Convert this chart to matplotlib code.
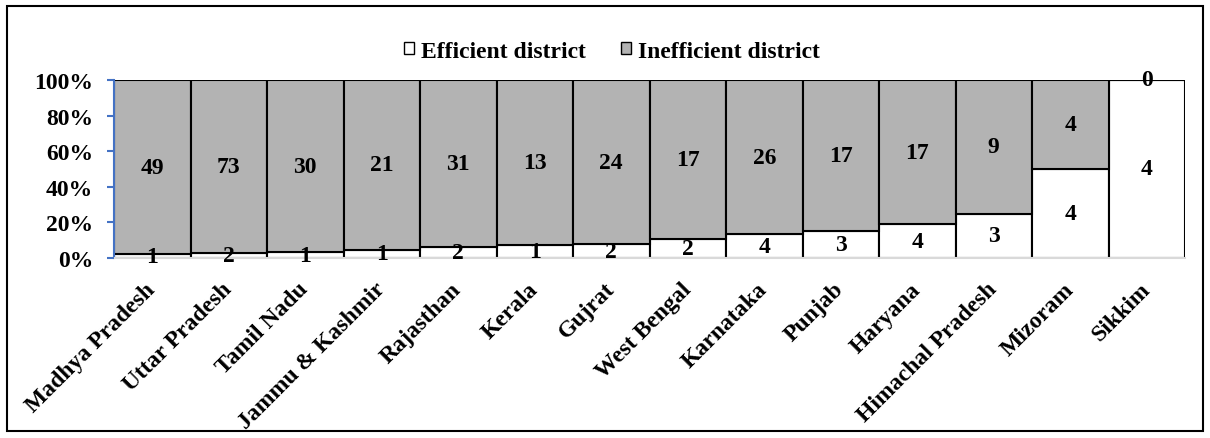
import matplotlib
matplotlib.use("Agg")
import matplotlib.pyplot as plt
from matplotlib.patches import Rectangle
import numpy as np

states = ["Madhya Pradesh", "Uttar Pradesh", "Tamil Nadu", "Jammu & Kashmir", "Rajasthan",
          "Kerala", "Gujrat", "West Bengal", "Karnataka", "Punjab", "Haryana",
          "Himachal Pradesh", "Mizoram", "Sikkim"]
efficient = [1, 2, 1, 1, 2, 1, 2, 2, 4, 3, 4, 3, 4, 4]
inefficient = [49, 73, 30, 21, 31, 13, 24, 17, 26, 17, 17, 9, 4, 0]
yticks = [0, 20, 40, 60, 80, 100]

plt.rcParams['font.family'] = ['Liberation Serif', 'DejaVu Serif']
plt.rcParams['font.weight'] = 'bold'
FS = 17

fig = plt.figure(figsize=(12.1, 4.39), dpi=100)
ax = fig.add_axes([114/1210, 1-259/439, (1185-114)/1210, (259-81)/439])

eff = np.array(efficient, float)
ineff = np.array(inefficient, float)
tot = eff + ineff
pe = eff / tot * 100
pi = ineff / tot * 100
x = np.arange(len(states))

gray = '#b3b3b3'
b1 = ax.bar(x, pe, width=1.0, color='white', edgecolor='black', linewidth=1.5,
            label='Efficient district')
b2 = ax.bar(x, pi, bottom=pe, width=1.0, color=gray, edgecolor='black', linewidth=1.5,
            label='Inefficient district')

for i in range(len(states)):
    ax.text(x[i], pe[i] / 2, str(efficient[i]), ha='center', va='center',
            fontsize=FS, fontweight='bold')
    ax.text(x[i], pe[i] + pi[i] / 2, str(inefficient[i]), ha='center', va='center',
            fontsize=FS, fontweight='bold')

ax.set_xlim(-0.5, len(states) - 0.5)
ax.set_ylim(0, 100)
ax.set_yticks(yticks)
ax.set_yticklabels([f"{v}%" for v in yticks], fontsize=FS, fontweight='bold')
ax.set_xticks(x)
ax.set_xticklabels(states, rotation=45, ha='right', va='center', rotation_mode='anchor',
                   fontsize=FS, fontweight='bold')
ax.tick_params(axis='x', length=0, pad=20)
ax.tick_params(axis='y', length=5, color='#4472c4', width=1.5, pad=10)

for s in ['top', 'right']:
    ax.spines[s].set_visible(False)
ax.spines['left'].set_color('#4472c4')
ax.spines['left'].set_linewidth(1.5)
ax.spines['bottom'].set_color('#d9d9d9')
ax.spines['bottom'].set_linewidth(1.5)
ax.set_axisbelow(False)

leg = fig.legend(handles=[b1, b2], loc='center', bbox_to_anchor=(612/1210, 1-52/439),
                 ncol=2, frameon=False, fontsize=FS, handlelength=0.42,
                 handleheight=0.42, handletextpad=0.3, columnspacing=1.5)
for t in leg.get_texts():
    t.set_fontweight('bold')
for h in leg.legend_handles:
    h.set_linewidth(1.0)

fig.patches.append(Rectangle((7/1210, 1-432/439), (1203-7)/1210, (432-7)/439,
                             transform=fig.transFigure, fill=False,
                             edgecolor='black', linewidth=1.5))

fig.savefig('out.png', dpi=100)
